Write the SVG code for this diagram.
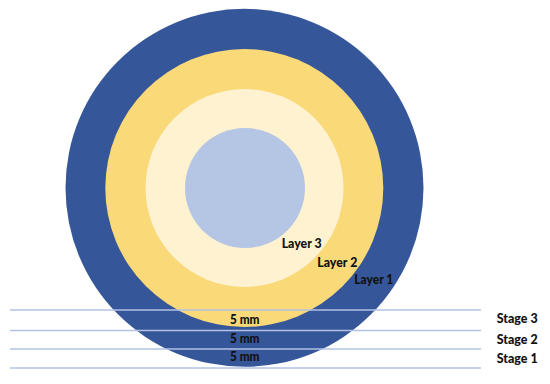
<svg xmlns="http://www.w3.org/2000/svg" width="550" height="384" viewBox="0 0 550 384">
  <style>
    .lbl { font-family: Lato, "Liberation Sans", sans-serif; font-weight: 900; font-size: 13.5px; fill: #111111; }
    .guide { stroke: #B3C2E4; stroke-width: 1.5; fill: none; }
  </style>
  <rect x="0" y="0" width="550" height="384" fill="#FFFFFF"/>
  <g id="layer1">
    <circle cx="244.5" cy="187.8" r="179" fill="#36569A"/>
  </g>
  <g id="layer2">
    <circle cx="244.3" cy="188" r="139" fill="#F9D978"/>
  </g>
  <g id="layer3">
    <circle cx="244.5" cy="188" r="99" fill="#FEF2D1"/>
  </g>
  <g id="core">
    <circle cx="245" cy="188" r="60" fill="#B5C6E5"/>
  </g>
  <g id="connectors">
    <line class="guide" x1="10" y1="310" x2="481" y2="310"/>
    <line class="guide" x1="10" y1="330.5" x2="481" y2="330.5"/>
    <line class="guide" x1="10" y1="349" x2="481" y2="349"/>
    <line class="guide" x1="10" y1="368" x2="481" y2="368"/>
  </g>
  <g id="layer-labels">
    <text class="lbl" x="281.7" y="248.3" textLength="40" lengthAdjust="spacingAndGlyphs">Layer 3</text>
    <text class="lbl" x="317.3" y="266.7" textLength="40" lengthAdjust="spacingAndGlyphs">Layer 2</text>
    <text class="lbl" x="354.3" y="284" textLength="39" lengthAdjust="spacingAndGlyphs">Layer 1</text>
  </g>
  <g id="mm-labels">
    <text class="lbl" x="230" y="324" textLength="29.5" lengthAdjust="spacingAndGlyphs">5 mm</text>
    <text class="lbl" x="230" y="343.3" textLength="29.5" lengthAdjust="spacingAndGlyphs">5 mm</text>
    <text class="lbl" x="230" y="360.7" textLength="29.5" lengthAdjust="spacingAndGlyphs">5 mm</text>
  </g>
  <g id="stage-labels">
    <text class="lbl" x="496.7" y="322.7" textLength="41" lengthAdjust="spacingAndGlyphs">Stage 3</text>
    <text class="lbl" x="496.7" y="344" textLength="41" lengthAdjust="spacingAndGlyphs">Stage 2</text>
    <text class="lbl" x="496.7" y="363.3" textLength="41" lengthAdjust="spacingAndGlyphs">Stage 1</text>
  </g>
</svg>
